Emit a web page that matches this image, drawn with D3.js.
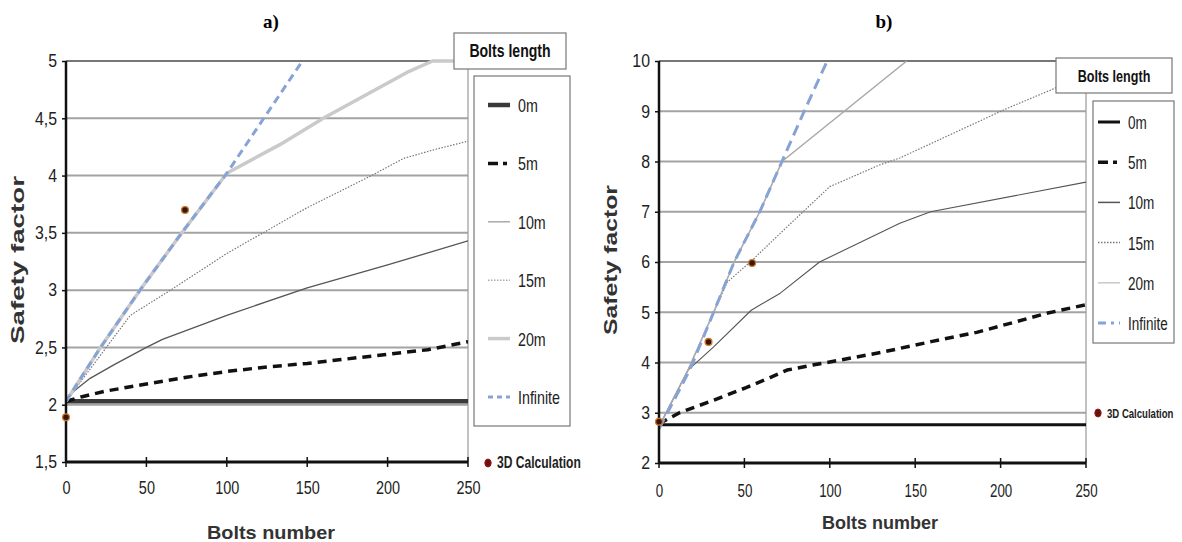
<!DOCTYPE html>
<html><head><meta charset="utf-8">
<script src="https://cdn.jsdelivr.net/npm/d3@7"></script>
<style>body{margin:0;background:#fff}</style>
</head><body>
<svg id="c" width="1182" height="542"></svg>
<script>
// ---- Data: panel a ----
const seriesNames = ["0m","5m","10m","15m","20m","Infinite"];
const a_xTicks = [0,50,100,150,200,250];
const a_yTicks = [1.5,2,2.5,3,3.5,4,4.5,5];
const a_yTickLabels = ["1,5","2","2,5","3","3,5","4","4,5","5"];
const a_0m  = [[0,2.03],[250,2.03]];
const a_5m  = [[0,2.03],[10,2.07],[25,2.12],[50,2.18],[75,2.24],[100,2.29],[125,2.33],[150,2.36],[175,2.40],[200,2.44],[225,2.48],[250,2.55]];
const a_10m = [[0,2.03],[5,2.12],[15,2.23],[30,2.35],[50,2.5],[60,2.57],[100,2.78],[150,3.02],[200,3.22],[250,3.43]];
const a_15m = [[0,2.03],[40,2.78],[65,3.0],[100,3.32],[150,3.72],[190,4.0],[210,4.15],[230,4.23],[250,4.3]];
const a_20m = [[0,2.03],[21,2.49],[46,3.0],[72,3.5],[100,4.02],[133,4.27],[160,4.5],[212,4.9],[228,5.0],[250,5.0]];
const a_inf = [[0,2.03],[21,2.49],[46,3.0],[72,3.5],[100,4.02],[123,4.5],[147,5.0]];
const a_3d  = [[0,1.89],[74,3.7]];

// ---- Data: panel b ----
const b_xTicks = [0,50,100,150,200,250];
const b_yTicks = [2,3,4,5,6,7,8,9,10];
const b_yTickLabels = ["2","3","4","5","6","7","8","9","10"];
const b_0m  = [[0,2.76],[250,2.76]];
const b_5m  = [[0,2.78],[12,3.0],[32,3.25],[51,3.5],[65,3.7],[75,3.85],[90,3.95],[100,4.01],[130,4.2],[160,4.42],[186,4.6],[210,4.82],[227,4.98],[250,5.15]];
const b_10m = [[0,2.72],[17,3.85],[32,4.31],[54,5.04],[71,5.38],[94,6.0],[141,6.77],[159,7.0],[250,7.59]];
const b_15m = [[0,2.72],[17,3.85],[32,5.0],[40,5.6],[55,6.05],[75,6.7],[100,7.5],[129,7.93],[141,8.07],[204,9.06],[232,9.46],[250,9.72]];
const b_20m = [[0,2.72],[17,3.85],[32,5.0],[44,6.0],[59,7.0],[72,8.0],[145,10.0]];
const b_inf = [[0,2.68],[18,3.85],[32,5.0],[44,6.0],[59,7.0],[72,8.0],[85,9.0],[98.5,10.0]];
const b_3d  = [[0,2.82],[29,4.41],[54.5,5.98]];

const svg = d3.select("#c");
const sans = "'Liberation Sans',Arial,sans-serif";

// condense text horizontally (narrow font look)
function condense(sel, f){
  sel.each(function(){
    const w = this.getComputedTextLength();
    if (w>0) d3.select(this).attr("textLength", w*f).attr("lengthAdjust","spacingAndGlyphs");
  });
}

function drawPanel(o){
  const x = d3.scaleLinear().domain([0,250]).range([o.x0,o.x1]);
  const y = d3.scaleLinear().domain(o.yDomain).range([o.yb,o.yt]);
  const g = svg.append("g");
  const clipId = "clip"+o.id;
  svg.append("clipPath").attr("id",clipId).append("rect")
    .attr("x",o.x0).attr("y",o.yt-2).attr("width",o.x1-o.x0).attr("height",o.yb-o.yt+2);

  // gridlines
  g.selectAll(".grid").data(o.yTicks.slice(1)).join("line")
    .attr("x1",o.x0).attr("x2",o.x1).attr("y1",d=>y(d)).attr("y2",d=>y(d))
    .attr("stroke",(d,i)=> i===o.yTicks.length-2 ? "#777" : "#a3a3a3").attr("stroke-width",2);
  // right border
  g.append("line").attr("x1",o.x1).attr("x2",o.x1).attr("y1",o.yt).attr("y2",o.yb)
    .attr("stroke","#999").attr("stroke-width",1.2);

  const line = d3.line().x(d=>x(d[0])).y(d=>y(d[1]));
  const lg = g.append("g").attr("clip-path",`url(#${clipId})`);
  o.series.forEach(s=>{
    lg.append("path").datum(s.data).attr("d",line).attr("fill","none")
      .attr("stroke",s.color).attr("stroke-width",s.w)
      .attr("stroke-dasharray",s.dash||null).attr("stroke-linejoin","round");
  });

  // axes
  const xAxis = d3.axisBottom(x).tickValues(o.xTicks).tickSize(0).tickPadding(o.xPad);
  const xa = g.append("g").attr("transform",`translate(0,${o.yb})`).call(xAxis);
  xa.select(".domain").remove();
  xa.selectAll("text").attr("font-family",sans).attr("font-size",o.xfs).attr("fill","#222").call(condense,o.xcf);
  g.selectAll(".xt").data(o.xTicks).join("line")
    .attr("x1",d=>x(d)).attr("x2",d=>x(d)).attr("y1",o.yb-5).attr("y2",o.yb+5)
    .attr("stroke","#111").attr("stroke-width",1.5);
  g.append("line").attr("x1",o.x0).attr("x2",o.x1).attr("y1",o.yb).attr("y2",o.yb)
    .attr("stroke","#111").attr("stroke-width",3);

  const yAxis = d3.axisLeft(y).tickValues(o.yTicks).tickFormat((d,i)=>o.yTickLabels[i]).tickSize(4).tickPadding(5);
  const ya = g.append("g").attr("transform",`translate(${o.x0},0)`).call(yAxis);
  ya.select(".domain").remove();
  ya.selectAll(".tick line").attr("stroke","#111").attr("stroke-width",1.5);
  ya.selectAll("text").attr("font-family",sans).attr("font-size",18).attr("fill","#222").call(condense,0.88);
  g.append("line").attr("x1",o.x0).attr("x2",o.x0).attr("y1",o.yt).attr("y2",o.yb+1)
    .attr("stroke","#111").attr("stroke-width",2.5);

  // 3D points
  g.selectAll(".pt").data(o.pts).join("circle")
    .attr("cx",d=>x(d[0])).attr("cy",d=>y(d[1])).attr("r",3.4)
    .attr("fill","#3b1408").attr("stroke","#c8772f").attr("stroke-width",1.3);

  // labels
  svg.append("text").attr("x",o.titleX).attr("y",28).attr("text-anchor","middle")
    .attr("font-family","'Liberation Serif','Times New Roman',serif").attr("font-weight","bold").attr("font-size",19)
    .text(o.title);
  svg.append("text").attr("x",o.xlabX).attr("y",o.xlabY).attr("text-anchor","middle")
    .attr("font-family",sans).attr("font-weight","bold").attr("font-size",19).attr("fill","#333")
    .attr("textLength",o.xlabLen).attr("lengthAdjust","spacingAndGlyphs")
    .text("Bolts number");
  svg.append("text").attr("transform",`translate(${o.ylabX},${o.ylabY}) rotate(-90)`).attr("text-anchor","middle")
    .attr("font-family",sans).attr("font-weight","bold").attr("font-size",19).attr("fill","#333")
    .attr("textLength",o.ylabLen).attr("lengthAdjust","spacingAndGlyphs")
    .text("Safety factor");

  // legend title box
  const L = o.leg;
  svg.append("rect").attr("x",L.tx).attr("y",L.ty).attr("width",L.tw).attr("height",L.th)
    .attr("fill","#fff").attr("stroke","#777").attr("stroke-width",1.2);
  svg.append("text").attr("x",L.tx+L.tw/2).attr("y",L.ty+L.th/2+6).attr("text-anchor","middle")
    .attr("font-family",sans).attr("font-weight","bold").attr("font-size",L.tfs).attr("fill","#111")
    .text("Bolts length").call(condense,0.74);
  svg.append("rect").attr("x",L.bx).attr("y",L.by).attr("width",L.bw).attr("height",L.bh)
    .attr("fill","#fff").attr("stroke","#777").attr("stroke-width",1.2);
  o.series.forEach((s,i)=>{
    const yy = L.iy0 + i*L.step;
    svg.append("line").attr("x1",L.lx0).attr("x2",L.lx1).attr("y1",yy).attr("y2",yy)
      .attr("stroke",s.lcolor||s.color).attr("stroke-width",Math.max(s.w,1.5)).attr("stroke-dasharray",s.ldash||s.dash||null);
    svg.append("text").attr("x",L.lx1+8).attr("y",yy+7).attr("font-family",sans).attr("font-size",L.fs).attr("fill","#222")
      .text(seriesNames[i]).call(condense,0.75);
  });
  svg.append("ellipse").attr("cx",L.px).attr("cy",L.py).attr("rx",3.2).attr("ry",4).attr("fill","#6b0f0f").attr("stroke","#9a2020");
  svg.append("g").attr("transform",`translate(${L.px+9},${L.py+5}) scale(0.71,1)`)
    .append("text").attr("x",0).attr("y",0).attr("font-family",sans).attr("font-weight","bold")
    .attr("font-size",L.pfs).attr("fill","#222").text("3D Calculation");
}

drawPanel({id:"a", x0:66, x1:468, yt:61, yb:462, yDomain:[1.5,5], xTicks:a_xTicks, yTicks:a_yTicks, yTickLabels:a_yTickLabels, xPad:19, xfs:19, xcf:0.76,
  series:[
    {data:a_0m, color:"#3a3a3a", w:4.5},
    {data:a_5m, color:"#111", w:3.5, dash:"9,6", ldash:"10,5,4,5"},
    {data:a_10m, color:"#555", w:1.3, lcolor:"#aaa"},
    {data:a_15m, color:"#777", w:1.2, dash:"1.5,1.5", lcolor:"#aaa"},
    {data:a_20m, color:"#cacaca", w:3.5},
    {data:a_inf, color:"#87a3d6", w:3, dash:"8,5", ldash:"5,4"}
  ],
  pts:a_3d, title:"a)", titleX:271, xlabX:271, xlabY:539, xlabLen:128, ylabX:24, ylabY:260, ylabLen:168,
  leg:{tx:454, ty:33, tw:112, th:36, tfs:19, fs:19, bx:474, by:76, bw:96, bh:350, iy0:105, step:58.4, lx0:488, lx1:510, px:488, py:463, pfs:17}
});

drawPanel({id:"b", x0:659, x1:1086, yt:61, yb:463, yDomain:[2,10], xTicks:b_xTicks, yTicks:b_yTicks, yTickLabels:b_yTickLabels, xPad:21, xfs:18, xcf:0.74,
  series:[
    {data:b_0m, color:"#111", w:3},
    {data:b_5m, color:"#111", w:3.5, dash:"9,6", ldash:"10,5,4,5"},
    {data:b_10m, color:"#555", w:1.1},
    {data:b_15m, color:"#777", w:1.2, dash:"1.5,1.5"},
    {data:b_20m, color:"#aaa", w:1.6, lcolor:"#ccc"},
    {data:b_inf, color:"#87a3d6", w:3, dash:"11,6", ldash:"8,5,3,5"}
  ],
  pts:b_3d, title:"b)", titleX:884, xlabX:880, xlabY:529, xlabLen:116, ylabX:617, ylabY:260, ylabLen:150,
  leg:{tx:1056, ty:58, tw:116, th:35, tfs:17, fs:18, bx:1093, by:101, bw:81, bh:242, iy0:122, step:40.2, lx0:1098, lx1:1120, px:1098, py:413, pfs:13.5}
});
</script>
</body></html>
